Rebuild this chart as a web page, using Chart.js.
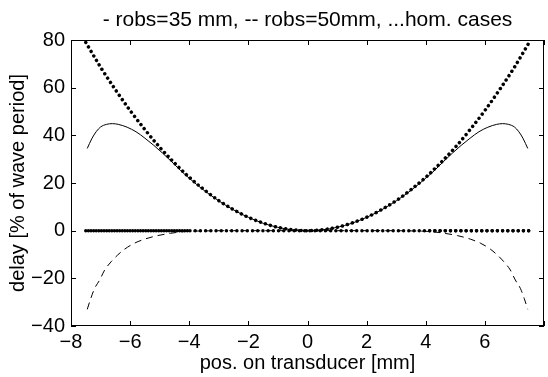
<!DOCTYPE html>
<html>
<head>
<meta charset="utf-8">
<script src="https://cdn.jsdelivr.net/npm/chart.js@4/dist/chart.umd.min.js"></script>
<style>
html,body{margin:0;padding:0;background:#fff;}
#wrap{width:548px;height:377px;}
</style>
</head>
<body>
<div id="wrap"><canvas id="c" width="548" height="377"></canvas></div>
<script>
// robs=35 mm (solid)
const solidX=[-7.45,-7.3,-7.15,-7.0,-6.8,-6.6,-6.4,-6.1,-5.8,-5.5,-5.2,-4.9,-4.6,-4.3,-4.0,-3.5,-3.0,-2.5,-2.0,-1.5,-1.0,-0.5,0,
0.5,1.0,1.5,2.0,2.5,3.0,3.5,4.0,4.3,4.6,4.9,5.2,5.5,5.8,6.1,6.4,6.6,6.8,7.0,7.15,7.3,7.45];
const solidY=[34.5,38.5,41.5,43.5,44.6,44.9,44.6,43.4,41.5,38.8,35.8,32.5,29.0,25.3,22.0,16.9,12.5,8.7,5.6,3.1,1.4,0.35,0,
0.35,1.4,3.1,5.6,8.7,12.5,16.9,22.0,25.3,29.0,32.5,35.8,38.8,41.5,43.4,44.6,44.9,44.6,43.5,41.5,38.5,34.5];

// robs=50mm (dashed)
const dashX=[-7.45,-7.33,-7.2,-7.03,-6.86,-6.64,-6.42,-6.19,-5.86,-5.52,-5.08,-4.63,-4.18,-3.5,-2.5,-1,0,
1,2.5,3.5,4.18,4.63,5.08,5.52,5.86,6.19,6.42,6.64,6.86,7.03,7.2,7.33,7.45];
const dashY=[-33,-28.4,-24.2,-20.7,-16.5,-13.0,-10.2,-7.8,-5.3,-3.6,-2.1,-1.1,-0.4,-0.1,0,0,0,
0,0,-0.1,-0.4,-1.1,-2.1,-3.6,-5.3,-7.8,-10.2,-13.0,-16.5,-20.7,-24.2,-28.4,-33];

// hom. cases (dotted)
const homX=[-7.5,-7,-6.5,-6,-5.5,-5,-4.5,-4,-3.5,-3,-2.5,-2,-1.5,-1,-0.5,0,0.5,1,1.5,2,2.5,3,3.5,4,4.5,5,5.5,6,6.5,7,7.5];
const homY=[79,68.6,59.2,50.4,42.4,35,28.4,22.4,17.2,12.6,8.8,5.6,3.2,1.4,0.4,0,0.4,1.4,3.2,5.6,8.8,12.6,17.2,22.4,28.4,35,42.4,50.4,59.2,68.6,79];
const zeroX=[-7.5,7.5];
const zeroY=[0,0];
const zeroDenseLX=[-7.5,-4.0];
const zeroDenseRX=[4.0,7.5];
const zeroDenseY=[0,0];

const xTicks=[-8,-6,-4,-2,0,2,4,6,8];
const yTicks=[-40,-20,0,20,40,60,80];

function pts(xs,ys){return xs.map((v,i)=>({x:v,y:ys[i]}));}
function fmt(v){return v<0?'\u2212'+Math.abs(v):String(v);}

const FONT={family:'"Liberation Sans", Arial, Helvetica, sans-serif',size:20};

const boxTicks={
id:'boxTicks',
afterDatasetsDraw(chart){
const {ctx,chartArea:a,scales:{x,y}}=chart;
ctx.save();
ctx.strokeStyle='#000';
ctx.lineWidth=1;
ctx.strokeRect(a.left+0.5,a.top+0.5,a.right-a.left-1,a.bottom-a.top-1);
ctx.beginPath();
xTicks.forEach(t=>{
const px=Math.round(x.getPixelForValue(t))+0.5;
ctx.moveTo(px,a.bottom);ctx.lineTo(px,a.bottom-5);
ctx.moveTo(px,a.top);ctx.lineTo(px,a.top+5);
});
yTicks.forEach(t=>{
const py=Math.round(y.getPixelForValue(t))+0.5;
ctx.moveTo(a.left,py);ctx.lineTo(a.left+5,py);
ctx.moveTo(a.right,py);ctx.lineTo(a.right-5,py);
});
ctx.stroke();
ctx.restore();
}
};

const dotted={
borderColor:'#000',borderWidth:3.5,borderDash:[0.01,5.2],borderCapStyle:'round',borderJoinStyle:'round',
pointRadius:0,showLine:true,fill:false
};

new Chart(document.getElementById('c'),{
type:'scatter',
data:{
datasets:[
Object.assign({data:pts(homX,homY),cubicInterpolationMode:'monotone'},dotted),
Object.assign({data:pts(zeroX,zeroY)},dotted),
Object.assign({data:pts(zeroDenseLX,zeroDenseY),borderDashOffset:2.6},dotted),
Object.assign({data:pts(zeroDenseRX,zeroDenseY),borderDashOffset:1.3},dotted),
{data:pts(solidX,solidY),borderColor:'#000',borderWidth:1,pointRadius:0,showLine:true,cubicInterpolationMode:'monotone'},
{data:pts(dashX,dashY),borderColor:'#000',borderWidth:1,borderDash:[7,5],pointRadius:0,showLine:true,cubicInterpolationMode:'monotone'}
]
},
options:{
responsive:false,
animation:false,
layout:{padding:0},
plugins:{
legend:{display:false},
tooltip:{enabled:false},
title:{
display:true,
fullSize:false,
text:'- robs=35 mm, -- robs=50mm, ...hom. cases',
color:'#000',
font:Object.assign({},FONT,{size:21,weight:'normal'}),
padding:{top:8,bottom:6.8}
}
},
scales:{
x:{
type:'linear',min:-8,max:8,
afterFit(s){s.height=51;},
afterBuildTicks(s){s.ticks=xTicks.map(v=>({value:v}));},
grid:{display:false,drawTicks:false},
border:{display:false},
ticks:{color:'#000',font:FONT,padding:4,autoSkip:false,maxRotation:0,
callback:v=>v===8?'':fmt(v)},
title:{display:true,text:'pos. on transducer [mm]',color:'#000',font:FONT,padding:{top:0,bottom:2}}
},
y:{
type:'linear',min:-40,max:80,
afterFit(s){s.width=71;},
afterBuildTicks(s){s.ticks=yTicks.map(v=>({value:v}));},
grid:{display:false,drawTicks:false},
border:{display:false},
ticks:{color:'#000',font:FONT,padding:6,callback:v=>fmt(v)},
title:{display:true,text:'delay [% of wave period]',color:'#000',font:FONT,padding:{top:6,bottom:0}}
}
}
},
plugins:[boxTicks]
});
</script>
</body>
</html>
